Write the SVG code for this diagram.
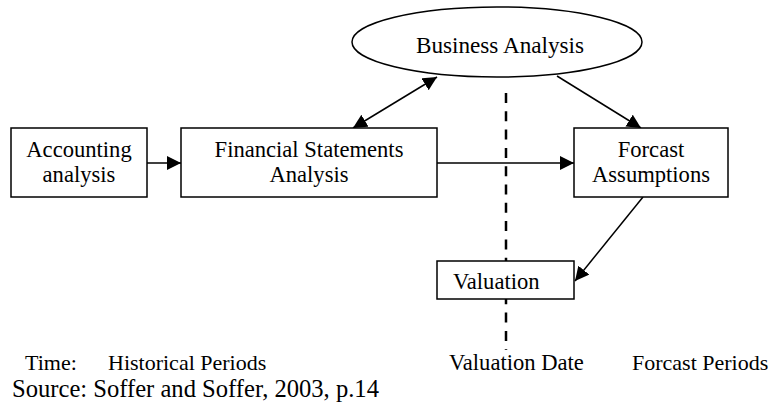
<svg xmlns="http://www.w3.org/2000/svg" width="772" height="410" viewBox="0 0 772 410">
<style>
.box{fill:#fff;stroke:#000;stroke-width:1.5}
.t{font-family:"Liberation Serif","Times New Roman",serif;font-size:22.6px;fill:#000}
.b{font-size:22px}
.c{text-anchor:middle}
.ln{stroke:#000;stroke-width:1.5;fill:none}
</style>
<defs>
<marker id="ah" viewBox="0 0 10 10" refX="10" refY="5" markerWidth="14" markerHeight="14" markerUnits="userSpaceOnUse" orient="auto-start-reverse">
<path d="M0,0 L10,5 L0,10 z" fill="#000"/>
</marker>
</defs>
<rect width="772" height="410" fill="#fff"/>
<line x1="506" y1="93" x2="506" y2="350" stroke="#000" stroke-width="2.5" stroke-dasharray="10,8.3"/>
<g id="connectors">
<line class="ln" x1="147" y1="163" x2="181" y2="163" marker-end="url(#ah)"/>
<line class="ln" x1="437" y1="163" x2="574" y2="163" marker-end="url(#ah)"/>
<line class="ln" x1="353" y1="128" x2="437" y2="77" marker-start="url(#ah)" marker-end="url(#ah)"/>
<line class="ln" x1="557" y1="76" x2="641" y2="128" marker-end="url(#ah)"/>
<line class="ln" x1="643" y1="197" x2="575" y2="281" marker-end="url(#ah)"/>
</g>
<g id="business">
<ellipse class="box" cx="497" cy="42" rx="145" ry="35"/>
<text class="t c" x="500" y="53" style="font-size:23.2px">Business Analysis</text>
</g>
<g id="accounting">
<rect class="box" x="11" y="128" width="136" height="69"/>
<text class="t c" x="79" y="157">Accounting</text>
<text class="t c" x="79" y="182">analysis</text>
</g>
<g id="financial">
<rect class="box" x="181" y="128" width="256" height="69"/>
<text class="t c" x="309" y="157">Financial Statements</text>
<text class="t c" x="309" y="182">Analysis</text>
</g>
<g id="forcast">
<rect class="box" x="574" y="128" width="154" height="69"/>
<text class="t c" x="651" y="157">Forcast</text>
<text class="t c" x="651" y="182">Assumptions</text>
</g>
<g id="valuation">
<rect class="box" x="437" y="261" width="137" height="38"/>
<text class="t" x="453" y="289">Valuation</text>
</g>
<text class="t b" x="25" y="370">Time:</text>
<text class="t b" x="108" y="370">Historical Periods</text>
<text class="t" x="449" y="370">Valuation Date</text>
<text class="t b" x="632" y="370">Forcast Periods</text>
<text class="t" x="12" y="397" style="font-size:24.6px">Source: Soffer and Soffer, 2003, p.14</text>
</svg>
